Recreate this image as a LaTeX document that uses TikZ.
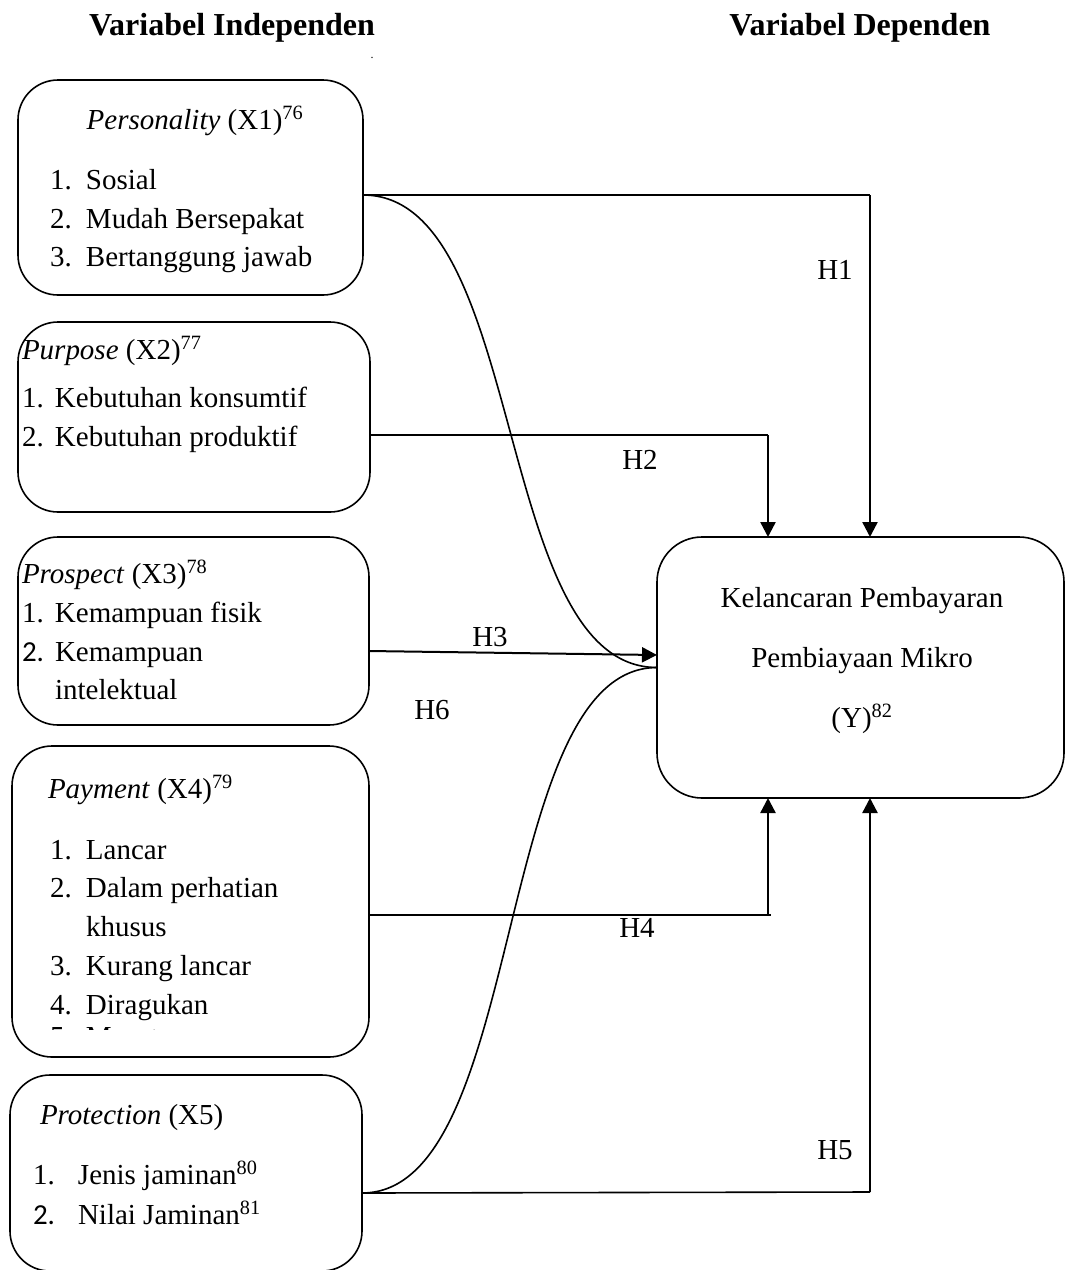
\documentclass[tikz,border=0pt]{standalone}
\usepackage{fontspec}
\setmainfont{Liberation Serif}
\newfontfamily\calib{Carlito}
\usetikzlibrary{arrows.meta}
\begin{document}
\begin{tikzpicture}[x=1pt,y=-1pt,
  every node/.style={inner sep=0pt, outer sep=0pt, font=\fontsize{29}{34}\selectfont},
  box/.style={draw, line width=1.6pt, rounded corners=40pt, anchor=north west},
  txt/.style={anchor=base west},
  ctr/.style={anchor=base},
  ttl/.style={font=\bfseries\fontsize{32}{36}\selectfont},
  conn/.style={line width=1.6pt},
  arr/.style={line width=2.4pt, -{Triangle[length=15pt,width=15pt]}},
]
\useasboundingbox (0,0) rectangle (1065,1270);

% titles
\node[ttl] (t1) at (232,28) {Variabel Independen};
\node[ttl] (t2) at (860,28) {Variabel Dependen};
\node[font=\fontsize{12}{14}\selectfont] (dot) at (372,58) {.};

% boxes
\node[box, minimum width=345pt, minimum height=215pt] (x1) at (18,80) {};
\node[box, minimum width=352pt, minimum height=190pt] (x2) at (18,322) {};
\node[box, minimum width=351pt, minimum height=188pt] (x3) at (18,537) {};
\node[box, minimum width=357pt, minimum height=311pt] (x4) at (12,746) {};
\node[box, minimum width=352pt, minimum height=196pt] (x5) at (10,1075) {};
\node[box, minimum width=407pt, minimum height=261pt, rounded corners=45pt] (y) at (657,537) {};

% X1 text
\node[ctr] (x1t) at (195,129) {\textit{Personality} (X1)\textsuperscript{76}};
\node[txt] (x1a) at (50,189) {\makebox[36pt][l]{1.}Sosial};
\node[txt] (x1b) at (50,228) {\makebox[36pt][l]{2.}Mudah Bersepakat};
\node[txt] (x1c) at (50,266) {\makebox[36pt][l]{3.}Bertanggung jawab};

% X2 text
\node[txt] (x2t) at (22,359) {\textit{Purpose} (X2)\textsuperscript{77}};
\node[txt] (x2a) at (22,407) {\makebox[33pt][l]{1.}Kebutuhan konsumtif};
\node[txt] (x2b) at (22,446) {\makebox[33pt][l]{2.}Kebutuhan produktif};

% X3 text
\node[txt] (x3t) at (22,583) {\textit{Prospect} (X3)\textsuperscript{78}};
\node[txt] (x3a) at (22,622) {\makebox[33pt][l]{1.}Kemampuan fisik};
\node[txt] (x3b) at (22,661) {\makebox[33pt][l]{\calib 2.}Kemampuan};
\node[txt] (x3c) at (55,699) {intelektual};

% X4 text
\node[txt] (x4t) at (48,798) {\textit{Payment} (X4)\textsuperscript{79}};
\node[txt] (x4a) at (50,859) {\makebox[36pt][l]{1.}Lancar};
\node[txt] (x4b) at (50,897) {\makebox[36pt][l]{2.}Dalam perhatian};
\node[txt] (x4c) at (86,936) {khusus};
\node[txt] (x4d) at (50,975) {\makebox[36pt][l]{3.}Kurang lancar};
\node[txt] (x4e) at (50,1014) {\makebox[36pt][l]{4.}Diragukan};
\begin{scope}
\clip (40,1027) rectangle (200,1029.5);
\node[txt] (x4f) at (50,1046.5) {\makebox[36pt][l]{5.}Macet};
\end{scope}

% X5 text
\node[txt] (x5t) at (40,1124) {\textit{Protection} (X5)};
\node[txt] (x5a) at (33,1184) {\makebox[45pt][l]{1.}Jenis jaminan\textsuperscript{80}};
\node[txt] (x5b) at (33,1224) {\makebox[45pt][l]{\calib 2.}Nilai Jaminan\textsuperscript{81}};

% Y text
\node[ctr] (ya) at (862,607) {Kelancaran Pembayaran};
\node[ctr] (yb) at (862,667) {Pembiayaan Mikro};
\node[ctr] (yc) at (862,727) {(Y)\textsuperscript{82}};

% corner coordinates
\coordinate (c1) at (870,195);
\coordinate (c2) at (768,435);
\coordinate (c4) at (768,915);
\coordinate (c5) at (870,1192);

% connectors
\draw[conn] ([yshift=-7.5pt]x1.east) -- (c1);
\draw[arr] (c1) -- (c1 |- y.north);
\draw[conn] ([yshift=-18pt]x2.east) -- (c2);
\draw[arr] (c2) -- (c2 |- y.north);
\draw[arr, line width=2pt] ([yshift=-20pt]x3.east) -- ([yshift=12.5pt]y.west);
\draw[conn] ([yshift=-13.5pt]x4.east) -- ([xshift=3pt]c4);
\draw[arr] (c4) -- (c4 |- y.south);
\draw[conn] ([yshift=-20pt]x5.east) -- (c5);
\draw[arr] (c5) -- (c5 |- y.south);
\draw[conn] ([yshift=-7.5pt]x1.east) .. controls +(165,0) and +(-165,0) .. (y.west);
\draw[conn] ([yshift=-20pt]x5.east) .. controls +(165,0) and +(-165,0) .. (y.west);

% labels
\node (h1) at (835,270) {H1};
\node (h2) at (640,460) {H2};
\node (h3) at (490,637) {H3};
\node (h6) at (432,710) {H6};
\node (h4) at (637,928) {H4};
\node (h5) at (835,1150) {H5};
\end{tikzpicture}
\end{document}
